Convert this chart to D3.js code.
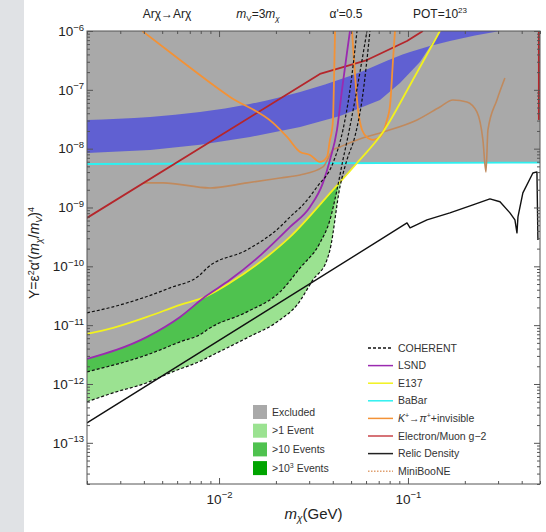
<!DOCTYPE html>
<html><head><meta charset="utf-8">
<script src="https://cdn.jsdelivr.net/npm/d3@7"></script>
<style>body{margin:0;background:#fff}svg{display:block;font-family:"Liberation Sans",Arial,sans-serif}</style>
</head><body><svg id="c" width="546" height="532"></svg>
<script>
// ---------- data (mass in GeV, Y) ----------
const xDomain = [0.002, 0.5];
const yDomain = [1.995e-14, 1e-6];
const xTickValues = [0.01, 0.1];
const yTickExps = [-13, -12, -11, -10, -9, -8, -7, -6];

const lsnd = [[0.00200,2.67e-12],[0.00416,6.33e-12],[0.00622,1.38e-11],[0.00843,3.03e-11],[0.01143,5.89e-11],[0.01710,1.69e-10],[0.02377,4.68e-10],[0.03030,1.02e-9],[0.03548,2.62e-9],[0.03865,6.43e-9],[0.04210,2.08e-8],[0.04475,9.95e-8],[0.04752,4.22e-7],[0.04932,1e-6]];
const e137 = [[0.00200,7.11e-12],[0.00275,8.99e-12],[0.00416,1.38e-11],[0.00622,2.21e-11],[0.00843,3.03e-11],[0.01143,5.24e-11],[0.01710,1.29e-10],[0.02377,3.16e-10],[0.04010,1.99e-9],[0.05374,5.71e-9],[0.07379,1.92e-8],[0.1026,1.21e-7],[0.1477,1e-6]];
const babar = [[0.002,5.5e-9],[0.5,5.8e-9]];
const coh1000 = [[0.00200,1.62e-11],[0.00275,2.05e-11],[0.00551,4.31e-11],[0.00793,7.16e-11],[0.00865,9.40e-11],[0.01406,1.90e-10],[0.02104,4.68e-10],[0.02377,6.92e-10],[0.02782,1.11e-9],[0.03301,2.24e-9],[0.04010,5.71e-9],[0.04527,2.08e-8],[0.04932,9.95e-8],[0.05374,1e-6]];
const coh10 = [[0.00200,1.61e-12],[0.00416,3.13e-12],[0.00622,5.20e-12],[0.00823,7.40e-12],[0.00865,8.32e-12],[0.01406,1.68e-11],[0.02104,3.68e-11],[0.02686,9.40e-11],[0.03420,2.50e-10],[0.03865,6.15e-10],[0.04210,1.99e-9],[0.04527,6.43e-9],[0.04818,1.64e-8],[0.05245,6.73e-8],[0.05714,3.21e-7],[0.06067,1e-6]];
const coh1 = [[0.00200,4.98e-13],[0.00275,7.08e-13],[0.00416,1.05e-12],[0.00551,1.55e-12],[0.00823,2.57e-12],[0.00929,3.13e-12],[0.01406,6.08e-12],[0.02104,1.23e-11],[0.02589,2.21e-11],[0.03142,5.89e-11],[0.03727,1.29e-10],[0.03865,1.90e-10],[0.04365,2.24e-9],[0.04752,6.43e-9],[0.05245,1.64e-8],[0.05714,6.73e-8],[0.06295,1e-6]];
const kaonA = [[0.00392,1e-6],[0.00622,3.21e-7],[0.01143,7.57e-8],[0.01931,2.74e-8],[0.02291,1.58e-8],[0.02686,8.79e-9],[0.03030,7.82e-9],[0.03420,5.94e-9],[0.03727,7.23e-9],[0.03865,1.41e-8],[0.03961,2.08e-8],[0.04010,3.08e-8],[0.04061,1.47e-7],[0.04112,1e-6]];
const kaonB = [[0.05058,1e-6],[0.05437,4.73e-8],[0.05714,2.08e-8],[0.06137,1.52e-8],[0.06531,1.41e-8],[0.07112,1.58e-8],[0.07745,3.08e-8],[0.08035,5.32e-8],[0.08336,3.21e-7],[0.08536,1e-6]];
const gm2 = [[0.002,6.65e-10],[0.03420,1.86e-7],[0.06067,3.21e-7],[0.09886,6.76e-7],[0.1200,1e-6]];
const gm2Edge = [[0.493,1e-6],[0.493,3.08e-8]];
const miniboone = [[0.00396,2.62e-9],[0.00506,2.62e-9],[0.00896,2.15e-9],[0.01406,2.62e-9],[0.02104,3.18e-9],[0.02686,3.57e-9],[0.03548,4.89e-9],[0.04010,9.51e-9],[0.04365,1.07e-8],[0.05374,1.41e-8],[0.07379,1.92e-8],[0.1117,3.08e-8],[0.1477,5.12e-8],[0.1729,6.73e-8],[0.2052,6.22e-8],[0.2317,4.21e-8],[0.2493,1.41e-8],[0.2588,4.02e-9],[0.2651,2.08e-8],[0.2958,6.73e-8],[0.3260,1.59e-7]];
const relic = [[0.002,2.19e-13],[0.07112,2.81e-10],[0.09886,5.47e-10],[0.1026,4.50e-10],[0.1261,6.15e-10],[0.1667,8.09e-10],[0.2208,1.11e-9],[0.2716,1.40e-9],[0.3070,1.25e-9],[0.3466,8.09e-10],[0.3683,6.15e-10],[0.3776,3.70e-10],[0.3822,6.92e-10],[0.4058,1.77e-9],[0.4584,3.86e-9],[0.4817,4.02e-9],[0.4875,2.81e-10]];
const bandTop = [[0.00200,3.08e-8],[0.00432,3.46e-8],[0.00793,4.21e-8],[0.01459,5.75e-8],[0.02686,9.2e-8],[0.04932,1.72e-7],[0.1026,4.40e-7],[0.1667,6.76e-7],[0.3070,1e-6]];
const bandBottom = [[0.00200,8.45e-9],[0.00432,9.51e-9],[0.00793,1.16e-8],[0.01459,1.58e-8],[0.02686,2.34e-8],[0.04365,3.6e-8],[0.07112,6.73e-8],[0.09077,1.31e-7],[0.1157,2.97e-7],[0.1477,1e-6]];

const lineLegend = ["COHERENT","LSND","E137","BaBar","K","Electron/Muon g\u22122","Relic Density","MiniBooNE"];
const areaLegend = ["Excluded",">1 Event",">10 Events",">10^3 Events"];

// ---------- styles ----------
const C = {grey:"#a9a9a9", band:"#5c5cd4", light:"#9be291", mid:"#4fc24f", dark:"#00a400",
  cyan:"#2ef0f0", purple:"#9a2ab0", yellow:"#f2f21e", orange:"#f39236", red:"#b5262b",
  brown:"#c08a5e", black:"#111", mb:"#e0a070"};

const L=87, R=540, T=31, B=484;
const svg = d3.select("#c");
svg.append("rect").attr("width",546).attr("height",532).attr("fill","#fff");
svg.append("rect").attr("width",24).attr("height",532).attr("fill","#e0e2e5");

const x = d3.scaleLog().domain(xDomain).range([L,R]);
const y = d3.scaleLog().domain(yDomain).range([B,T]);

svg.append("clipPath").attr("id","clip").append("rect").attr("x",L).attr("y",T).attr("width",R-L).attr("height",B-T);
const g = svg.append("g").attr("clip-path","url(#clip)");
const lineLin = d3.line().x(d=>x(d[0])).y(d=>y(d[1]));
const lineSm = d3.line().curve(d3.curveMonotoneX).x(d=>x(d[0])).y(d=>y(d[1]));
const aboveArea = d3.area().curve(d3.curveMonotoneX).x(d=>x(d[0])).y0(T-2).y1(d=>y(d[1]));

// green sensitivity regions
[[coh1,C.light],[coh10,C.mid],[coh1000,C.dark]].forEach(([p,c])=>g.append("path").attr("d",aboveArea(p)).attr("fill",c));
// excluded union
[lsnd,e137,babar].forEach(p=>g.append("path").attr("d",aboveArea(p)).attr("fill",C.grey));
// band
g.append("path").attr("d",lineSm(bandTop)+"L"+lineLin(bandBottom.slice().reverse()).slice(1)+"Z").attr("fill",C.band).attr("opacity",0.95);

function drawLine(p,color,w,dash,lin){
  const s=g.append("path").attr("d",(lin?lineLin:lineSm)(p)).attr("fill","none").attr("stroke",color).attr("stroke-width",w).attr("stroke-linejoin","round");
  if(dash) s.attr("stroke-dasharray",dash);
}
drawLine(babar,C.cyan,1.9,null,true);
drawLine(miniboone,C.brown,1.6);
drawLine(relic,C.black,1.4,null,true);
drawLine(gm2,C.red,1.8,null,true);
drawLine(gm2Edge,C.red,1.8,null,true);
drawLine(kaonA,C.orange,1.8);
drawLine(kaonB,C.orange,1.8);
drawLine(e137,C.yellow,1.8);
drawLine(lsnd,C.purple,1.8);
[coh1,coh10,coh1000].forEach(p=>drawLine(p,C.black,1.2,"3,2"));

// ---------- axes ----------
function minorVals(dom){
  const v=[]; const e0=Math.floor(Math.log10(dom[0])), e1=Math.ceil(Math.log10(dom[1]));
  for(let e=e0;e<=e1;e++) for(let k=2;k<=9;k++){const t=k*Math.pow(10,e); if(t>=dom[0]&&t<=dom[1]) v.push(t);}
  return v;
}
const yMajor = yTickExps.map(e=>Math.pow(10,e));
const axisCol="#555";
function styleAxis(sel){ sel.select(".domain").remove(); sel.selectAll("line").attr("stroke",axisCol); sel.selectAll("text").attr("fill","#222"); }

const gx = svg.append("g").attr("transform",`translate(0,${B})`).call(d3.axisBottom(x).tickValues(xTickValues).tickSize(-6).tickPadding(10));
svg.append("g").attr("transform",`translate(0,${B})`).call(d3.axisBottom(x).tickValues(minorVals(xDomain)).tickSize(-3).tickFormat("")).call(styleAxis);
svg.append("g").attr("transform",`translate(0,${T})`).call(d3.axisTop(x).tickValues(xTickValues).tickSize(-6).tickFormat("")).call(styleAxis);
svg.append("g").attr("transform",`translate(0,${T})`).call(d3.axisTop(x).tickValues(minorVals(xDomain)).tickSize(-3).tickFormat("")).call(styleAxis);
const gy = svg.append("g").attr("transform",`translate(${L},0)`).call(d3.axisLeft(y).tickValues(yMajor).tickSize(-6).tickPadding(3));
svg.append("g").attr("transform",`translate(${L},0)`).call(d3.axisLeft(y).tickValues(minorVals(yDomain)).tickSize(-3).tickFormat("")).call(styleAxis);
svg.append("g").attr("transform",`translate(${R},0)`).call(d3.axisRight(y).tickValues(yMajor).tickSize(-6).tickFormat("")).call(styleAxis);
svg.append("g").attr("transform",`translate(${R},0)`).call(d3.axisRight(y).tickValues(minorVals(yDomain)).tickSize(-3).tickFormat("")).call(styleAxis);
styleAxis(gx); styleAxis(gy);

function powLabel(sel){
  sel.each(function(d){
    const e=Math.round(Math.log10(d)); const t=d3.select(this);
    t.text("").attr("font-size",13.5).attr("font-family",'"Liberation Sans",Arial,sans-serif');
    t.append("tspan").text("10");
    t.append("tspan").attr("dy","-0.55em").attr("font-size",9.5).text("\u2212"+Math.abs(e));
  });
}
gx.selectAll(".tick text").call(powLabel);
gy.selectAll(".tick text").call(powLabel);

svg.append("rect").attr("x",L).attr("y",T).attr("width",R-L).attr("height",B-T).attr("fill","none").attr("stroke",axisCol).attr("stroke-width",1);

// ---------- titles ----------
const xt = svg.append("text").attr("x",(L+R)/2).attr("y",519).attr("text-anchor","middle").attr("font-size",15).attr("fill","#222");
xt.append("tspan").attr("font-style","italic").text("m");
xt.append("tspan").attr("dy",3).attr("font-size",10).attr("font-style","italic").text("\u03c7");
xt.append("tspan").attr("dy",-3).text("(GeV)");

const yt = svg.append("text").attr("transform","translate(39,253) rotate(-90)").attr("text-anchor","middle").attr("font-size",14).attr("fill","#222");
yt.append("tspan").text("Y=\u03b5");
yt.append("tspan").attr("dy",-5).attr("font-size",9).text("2");
yt.append("tspan").attr("dy",5).text("\u03b1'(");
yt.append("tspan").attr("font-style","italic").text("m");
yt.append("tspan").attr("dy",3).attr("font-size",9).attr("font-style","italic").text("\u03c7");
yt.append("tspan").attr("dy",-3).text("/");
yt.append("tspan").attr("font-style","italic").text("m");
yt.append("tspan").attr("dy",3).attr("font-size",9).attr("font-style","italic").text("V");
yt.append("tspan").attr("dy",-3).text(")");
yt.append("tspan").attr("dy",-5).attr("font-size",9).text("4");

const topY=18, tfs=12;
svg.append("text").attr("x",167).attr("y",topY).attr("text-anchor","middle").attr("font-size",tfs).attr("fill","#222").text("Ar\u03c7\u2192Ar\u03c7");
const t2=svg.append("text").attr("x",258).attr("y",topY).attr("text-anchor","middle").attr("font-size",tfs).attr("fill","#222");
t2.append("tspan").attr("font-style","italic").text("m");
t2.append("tspan").attr("dy",3).attr("font-size",8).text("V");
t2.append("tspan").attr("dy",-3).text("=3");
t2.append("tspan").attr("font-style","italic").text("m");
t2.append("tspan").attr("dy",3).attr("font-size",8).attr("font-style","italic").text("\u03c7");
svg.append("text").attr("x",346).attr("y",topY).attr("text-anchor","middle").attr("font-size",tfs).attr("fill","#222").text("\u03b1'=0.5");
const t4=svg.append("text").attr("x",440).attr("y",topY).attr("text-anchor","middle").attr("font-size",tfs).attr("fill","#222");
t4.append("tspan").text("POT=10");
t4.append("tspan").attr("dy",-5).attr("font-size",8).text("23");

// ---------- legends ----------
const lineStyles=[[C.black,"3,2"],[C.purple,null],[C.yellow,null],[C.cyan,null],[C.orange,null],["#c8454a",null],["#222",null],[C.mb,"1.5,1.5"]];
const lg=svg.append("g");
lineLegend.forEach((name,i)=>{
  const cy=348+i*17.6;
  const l=lg.append("line").attr("x1",368).attr("x2",393).attr("y1",cy).attr("y2",cy).attr("stroke",lineStyles[i][0]).attr("stroke-width",1.5);
  if(lineStyles[i][1]) l.attr("stroke-dasharray",lineStyles[i][1]);
  const t=lg.append("text").attr("x",398).attr("y",cy).attr("dy","0.35em").attr("font-size",10.5).attr("fill","#333");
  if(name==="K"){
    t.append("tspan").attr("font-style","italic").text("K");
    t.append("tspan").attr("dy",-4).attr("font-size",7).text("+");
    t.append("tspan").attr("dy",4).text("\u2192");
    t.append("tspan").attr("font-style","italic").text("\u03c0");
    t.append("tspan").attr("dy",-4).attr("font-size",7).text("+");
    t.append("tspan").attr("dy",4).text("+invisible");
  } else t.text(name);
});
const areaCols=[C.grey,C.light,C.mid,C.dark];
areaLegend.forEach((name,i)=>{
  const cy=412+i*18.7;
  lg.append("rect").attr("x",253).attr("y",cy-7).attr("width",14).attr("height",14).attr("fill",areaCols[i]);
  const t=lg.append("text").attr("x",272).attr("y",cy).attr("dy","0.35em").attr("font-size",10.5).attr("fill","#333");
  if(name.includes("^")){
    const [a,b]=name.split("^");
    t.append("tspan").text(a);
    t.append("tspan").attr("dy",-4).attr("font-size",7).text(b[0]);
    t.append("tspan").attr("dy",4).text(b.slice(1));
  } else t.text(name);
});
</script></body></html>
